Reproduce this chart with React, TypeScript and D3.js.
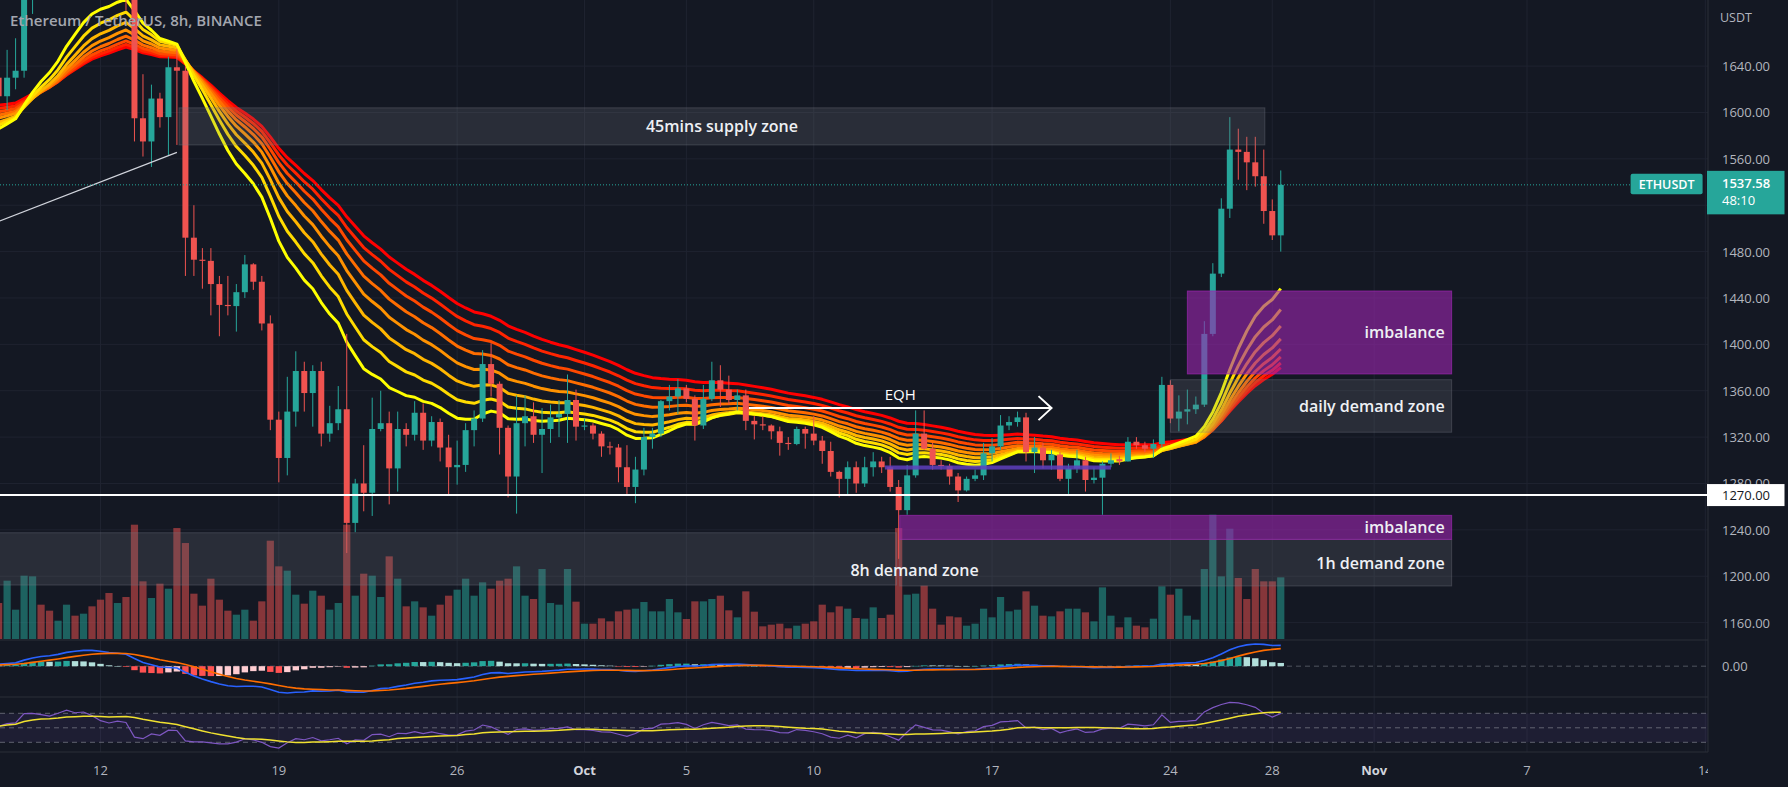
import * as React from "react";
import * as d3 from "d3";

// ETH/USDT 8h candles, Sep 8 2022 00:00 UTC onward
const candleOpen = [
  1630, 1614, 1630, 1636, 1718, 1722, 1716, 1708, 1738, 1778,
  1765, 1774, 1756, 1728, 1714, 1730, 1722, 1595, 1575, 1612,
  1596, 1639, 1636, 1492, 1473, 1472, 1452, 1434, 1433, 1445,
  1469, 1454, 1418, 1335, 1302, 1342, 1377, 1358, 1377, 1323,
  1332, 1344, 1246, 1280, 1272, 1327, 1332, 1293, 1327, 1322,
  1341, 1317, 1333, 1311, 1294, 1296, 1326, 1336, 1383, 1366,
  1328, 1286, 1332, 1338, 1322, 1327, 1337, 1340, 1352, 1329,
  1330, 1323, 1312, 1311, 1294, 1277, 1292, 1320, 1323, 1351,
  1355, 1362, 1353, 1330, 1353, 1369, 1361, 1352, 1356, 1334,
  1331, 1330, 1325, 1315, 1314, 1327, 1323, 1317, 1308, 1290,
  1284, 1294, 1280, 1294, 1299, 1294, 1277, 1257, 1287, 1323,
  1310, 1296, 1295, 1286, 1274, 1284, 1287, 1306, 1312, 1330,
  1333, 1337, 1307, 1311, 1300, 1305, 1284, 1293, 1300, 1283,
  1285, 1297, 1301, 1299, 1316, 1313, 1310, 1314, 1365, 1336,
  1342, 1344, 1348, 1409, 1461, 1517, 1568, 1566, 1557, 1545,
  1515, 1494,
];
const candleHigh = [
  1638, 1654, 1664, 1728, 1738, 1732, 1735, 1745, 1785, 1790,
  1782, 1780, 1765, 1740, 1738, 1742, 1748, 1633, 1624, 1617,
  1648, 1655, 1640, 1520, 1483, 1483, 1459, 1459, 1452, 1477,
  1470, 1459, 1425, 1342, 1372, 1394, 1385, 1382, 1385, 1347,
  1364, 1409, 1284, 1313, 1354, 1360, 1342, 1342, 1332, 1351,
  1349, 1338, 1336, 1322, 1317, 1332, 1343, 1395, 1401, 1368,
  1330, 1356, 1356, 1350, 1345, 1348, 1352, 1374, 1361, 1336,
  1332, 1325, 1316, 1314, 1313, 1303, 1328, 1328, 1352, 1365,
  1370, 1365, 1356, 1365, 1385, 1382, 1373, 1361, 1361, 1338,
  1338, 1331, 1329, 1320, 1329, 1329, 1338, 1321, 1316, 1291,
  1299, 1299, 1303, 1307, 1303, 1303, 1283, 1296, 1343, 1343,
  1315, 1300, 1297, 1289, 1286, 1292, 1315, 1319, 1339, 1338,
  1342, 1341, 1320, 1315, 1309, 1307, 1297, 1309, 1303, 1294,
  1299, 1306, 1304, 1320, 1320, 1316, 1318, 1372, 1369, 1356,
  1361, 1355, 1420, 1470, 1526, 1596, 1586, 1579, 1579, 1568,
  1525, 1550,
];
const candleLow = [
  1606, 1602, 1620, 1630, 1685, 1705, 1700, 1702, 1730, 1755,
  1752, 1748, 1712, 1705, 1700, 1688, 1575, 1562, 1553, 1587,
  1563, 1572, 1459, 1459, 1448, 1425, 1407, 1425, 1411, 1440,
  1447, 1412, 1326, 1281, 1287, 1329, 1342, 1329, 1312, 1316,
  1326, 1220, 1238, 1256, 1252, 1325, 1262, 1273, 1312, 1317,
  1309, 1312, 1299, 1270, 1279, 1290, 1312, 1333, 1355, 1305,
  1268, 1254, 1312, 1315, 1289, 1315, 1320, 1315, 1317, 1326,
  1318, 1303, 1305, 1281, 1271, 1263, 1287, 1310, 1320, 1343,
  1340, 1350, 1317, 1327, 1351, 1346, 1348, 1343, 1326, 1318,
  1326, 1318, 1304, 1309, 1313, 1310, 1313, 1297, 1286, 1268,
  1270, 1272, 1277, 1286, 1289, 1273, 1215, 1253, 1285, 1309,
  1292, 1292, 1279, 1264, 1273, 1282, 1283, 1299, 1309, 1326,
  1329, 1299, 1289, 1293, 1292, 1282, 1271, 1289, 1273, 1280,
  1253, 1294, 1296, 1299, 1310, 1307, 1302, 1311, 1332, 1325,
  1331, 1340, 1346, 1407, 1458, 1509, 1542, 1533, 1536, 1504,
  1490, 1480,
];
const candleClose = [
  1614, 1630, 1636, 1718, 1722, 1716, 1708, 1738, 1778, 1765,
  1774, 1756, 1728, 1714, 1730, 1722, 1595, 1575, 1612, 1596,
  1639, 1636, 1492, 1473, 1472, 1452, 1434, 1433, 1445, 1469,
  1454, 1418, 1335, 1302, 1342, 1377, 1358, 1377, 1323, 1332,
  1344, 1246, 1280, 1272, 1327, 1332, 1293, 1327, 1322, 1341,
  1317, 1333, 1311, 1294, 1296, 1326, 1336, 1383, 1366, 1328,
  1286, 1332, 1338, 1322, 1327, 1337, 1340, 1352, 1329, 1330,
  1323, 1312, 1311, 1294, 1277, 1292, 1320, 1323, 1351, 1355,
  1362, 1353, 1330, 1353, 1369, 1361, 1352, 1356, 1334, 1331,
  1330, 1325, 1315, 1314, 1327, 1323, 1317, 1308, 1290, 1284,
  1294, 1280, 1294, 1299, 1294, 1277, 1257, 1287, 1323, 1310,
  1296, 1295, 1286, 1274, 1284, 1287, 1306, 1312, 1330, 1333,
  1337, 1307, 1311, 1300, 1305, 1284, 1293, 1300, 1283, 1285,
  1297, 1300, 1299, 1316, 1313, 1310, 1314, 1365, 1336, 1342,
  1344, 1348, 1409, 1461, 1517, 1568, 1566, 1557, 1545, 1515,
  1494, 1537.58,
];
// volume, thousand ETH
const volume = [
  324, 525, 264, 570, 564, 309, 255, 165, 309, 210,
  228, 294, 354, 414, 324, 378, 1029, 519, 369, 498,
  453, 999, 864, 408, 300, 543, 354, 255, 219, 264,
  165, 339, 885, 654, 615, 399, 318, 435, 390, 264,
  324, 1029, 390, 588, 570, 378, 744, 543, 294, 339,
  285, 210, 309, 390, 444, 543, 390, 510, 453, 525,
  543, 654, 390, 360, 630, 324, 309, 630, 336, 138,
  138, 186, 159, 249, 264, 273, 333, 249, 249, 360,
  240, 180, 339, 339, 360, 390, 258, 195, 429, 246,
  114, 129, 138, 96, 120, 138, 159, 309, 240, 294,
  273, 189, 183, 285, 189, 219, 999, 399, 408, 480,
  273, 129, 204, 195, 120, 138, 273, 195, 378, 249,
  264, 429, 300, 210, 204, 249, 273, 273, 240, 159,
  465, 210, 105, 195, 120, 105, 183, 474, 399, 453,
  210, 174, 630, 1119, 564, 993, 549, 360, 630, 519,
  519, 555,
];

const ribbonLengths = [20, 25, 30, 35, 40, 45, 50, 55];
const ribbonSeed = [1583, 1587, 1590, 1594, 1597, 1600, 1603, 1606];
const macdSeed = { fast: 1598, slow: 1593, signal: 3 };
const rsiSeed = { gain: 9, loss: 7 };

const priceTicks = [1160, 1200, 1240, 1280, 1320, 1360, 1400, 1440, 1480, 1520, 1560, 1600, 1640];
const timeTicks = [
  { d: Date.UTC(2022, 8, 12), label: "12" },
  { d: Date.UTC(2022, 8, 19), label: "19" },
  { d: Date.UTC(2022, 8, 26), label: "26" },
  { d: Date.UTC(2022, 9, 1), label: "Oct", bold: true },
  { d: Date.UTC(2022, 9, 5), label: "5" },
  { d: Date.UTC(2022, 9, 10), label: "10" },
  { d: Date.UTC(2022, 9, 17), label: "17" },
  { d: Date.UTC(2022, 9, 24), label: "24" },
  { d: Date.UTC(2022, 9, 28), label: "28" },
  { d: Date.UTC(2022, 10, 1), label: "Nov", bold: true },
  { d: Date.UTC(2022, 10, 7), label: "7" },
  { d: Date.UTC(2022, 10, 14), label: "14" },
];

const zoneEnd = Date.UTC(2022, 10, 4, 1);
const zones = [
  { label: "45mins supply zone", from: Date.UTC(2022, 8, 15, 2), to: Date.UTC(2022, 9, 27, 17), top: 1604, bottom: 1572, kind: "gray", align: "center" },
  { label: "", from: Date.UTC(2022, 7, 20), to: Date.UTC(2022, 9, 13, 6), top: 1237.5, bottom: 1192.4, kind: "gray", align: "center" },
  { label: "1h demand zone", from: Date.UTC(2022, 9, 13, 9), to: zoneEnd, top: 1231.8, bottom: 1191.6, kind: "gray", align: "right" },
  { label: "imbalance", from: Date.UTC(2022, 9, 13, 9), to: zoneEnd, top: 1252.5, bottom: 1231.8, kind: "purple", align: "right" },
  { label: "daily demand zone", from: Date.UTC(2022, 9, 24, 0), to: zoneEnd, top: 1369.5, bottom: 1324.2, kind: "gray", align: "right" },
  { label: "imbalance", from: Date.UTC(2022, 9, 24, 16), to: zoneEnd, top: 1446, bottom: 1374.5, kind: "purple", align: "right" },
];
const demand8hLabel = { text: "8h demand zone", d: Date.UTC(2022, 9, 13, 23), price: 1205 };
const eqh = { from: Date.UTC(2022, 9, 7, 11), to: Date.UTC(2022, 9, 19, 8), price: 1345 };
const purpleLevel = { from: Date.UTC(2022, 9, 12, 19), to: Date.UTC(2022, 9, 21, 16), top: 1295.5, bottom: 1292 };
const trendLine = [
  { d: Date.UTC(2022, 8, 8, 0), price: 1506 },
  { d: Date.UTC(2022, 8, 15, 0), price: 1565.6 },
];
const keyLevel = 1270;
const lastPrice = 1537.58;

const W = 1788;
const H = 787;
const AXIS_X = 1708;
const MAIN_BOTTOM = 640;
const MACD_BOTTOM = 697;
const RSI_BOTTOM = 752;
const BG = "#141823";
const GRID = "#1f2330";
const UP = "#26a69a";
const DOWN = "#ef5350";
const FONT = "'Open Sans', 'DejaVu Sans', sans-serif";

const start = Date.UTC(2022, 8, 8, 0);
const dates = candleClose.map((_, i) => new Date(start + i * 8 * 3600 * 1000));

function emaSeries(values: number[], len: number, seed: number) {
  const a = 2 / (len + 1);
  let e = seed;
  return values.map((v) => (e = e + a * (v - e)));
}

function rsiSeries(closes: number[], len: number) {
  let g = rsiSeed.gain;
  let l = rsiSeed.loss;
  return closes.map((c, i) => {
    const prev = i === 0 ? candleOpen[0] : closes[i - 1];
    const ch = c - prev;
    g = (g * (len - 1) + Math.max(ch, 0)) / len;
    l = (l * (len - 1) + Math.max(-ch, 0)) / len;
    return 100 - 100 / (1 + g / l);
  });
}

export default function App() {
  const x = d3
    .scaleUtc()
    .domain([new Date(Date.UTC(2022, 8, 12)), new Date(Date.UTC(2022, 10, 7))])
    .range([100.5, 1527]);
  const y = d3.scaleLinear().domain([1160, 1640]).range([622.6, 66.1]);
  const yVol = d3.scaleLinear().domain([0, d3.max(volume) as number]).range([639, 514.7]);

  const ribbon = ribbonLengths.map((len, k) => emaSeries(candleClose, len, ribbonSeed[k]));
  const ribbonColor = d3.interpolateRgb("#ffff00", "#ff0000");

  const fast = emaSeries(candleClose, 12, macdSeed.fast);
  const slow = emaSeries(candleClose, 26, macdSeed.slow);
  const macd = fast.map((f, i) => f - slow[i]);
  const signal = emaSeries(macd, 9, macdSeed.signal);
  const hist = macd.map((m, i) => m - signal[i]);
  const macdExt = d3.extent([...macd, ...signal, ...hist]) as [number, number];
  const yMacd = d3.scaleLinear().domain(macdExt).range([MACD_BOTTOM - 4, MAIN_BOTTOM + 4]);

  const rsi = rsiSeries(candleClose, 14);
  const rsiMa = rsi.map((_, i) => d3.mean(rsi.slice(Math.max(0, i - 13), i + 1)) as number);
  const yRsi = d3.scaleLinear().domain([30, 70]).range([742.3, 713.3]);

  const line = (vals: number[], sy: (v: number) => number) =>
    d3
      .line<number>()
      .x((_, i) => x(dates[i]))
      .y((v) => sy(v))(vals) as string;

  const yLast = y(lastPrice);
  // the axis hides tick labels sitting under the last-price box
  const axisLabels = priceTicks.filter((p) => Math.abs(y(p) - (yLast + 8)) > 28);

  return (
    <svg
      width={W}
      height={H}
      style={{ position: "fixed", left: 0, top: 0, display: "block" }}
      fontFamily={FONT}
    >
      <defs>
        <clipPath id="main">
          <rect x={0} y={0} width={AXIS_X} height={MAIN_BOTTOM} />
        </clipPath>
        <clipPath id="macd">
          <rect x={0} y={MAIN_BOTTOM} width={AXIS_X} height={MACD_BOTTOM - MAIN_BOTTOM} />
        </clipPath>
        <clipPath id="rsi">
          <rect x={0} y={MACD_BOTTOM} width={AXIS_X} height={RSI_BOTTOM - MACD_BOTTOM} />
        </clipPath>
        <clipPath id="time">
          <rect x={0} y={RSI_BOTTOM} width={AXIS_X} height={H - RSI_BOTTOM} />
        </clipPath>
      </defs>
      <rect width={W} height={H} fill={BG} />

      {/* grid */}
      {priceTicks.map((p) => (
        <line key={p} x1={0} x2={AXIS_X} y1={y(p)} y2={y(p)} stroke={GRID} />
      ))}
      {timeTicks.map((t) => (
        <line key={t.d} x1={x(t.d)} x2={x(t.d)} y1={0} y2={RSI_BOTTOM} stroke={GRID} />
      ))}

      <g clipPath="url(#main)">
        {/* volume */}
        {volume.map((v, i) => (
          <rect
            key={i}
            x={x(dates[i]) - 3.6}
            width={7.2}
            y={yVol(v)}
            height={yVol(0) - yVol(v)}
            fill={candleClose[i] >= candleOpen[i] ? "rgba(38,166,154,0.52)" : "rgba(239,83,80,0.52)"}
          />
        ))}

        {/* EMA ribbon */}
        {ribbon
          .map((vals, k) => ({ vals, k }))
          .reverse()
          .map(({ vals, k }) => (
            <path
              key={k}
              d={line(vals, y)}
              fill="none"
              stroke={ribbonColor(k / (ribbon.length - 1))}
              strokeWidth={3}
              strokeLinejoin="round"
            />
          ))}

        {/* candles */}
        {candleClose.map((c, i) => {
          const o = candleOpen[i];
          const col = c >= o ? UP : DOWN;
          const cx = x(dates[i]);
          const top = y(Math.max(o, c));
          const bot = y(Math.min(o, c));
          return (
            <g key={i}>
              <line x1={cx} x2={cx} y1={y(candleHigh[i])} y2={y(candleLow[i])} stroke={col} strokeWidth={1} />
              <rect x={cx - 3} width={6} y={top} height={Math.max(1, bot - top)} fill={col} />
            </g>
          );
        })}

        {/* trend line */}
        <line
          x1={x(trendLine[0].d)}
          y1={y(trendLine[0].price)}
          x2={x(trendLine[1].d)}
          y2={y(trendLine[1].price)}
          stroke="#d1d4dc"
          strokeWidth={1.2}
        />

        {/* zones */}
        {zones.map((z, i) => {
          const x0 = x(z.from);
          const x1 = x(z.to);
          const y0 = y(z.top);
          const y1 = y(z.bottom);
          const purple = z.kind === "purple";
          return (
            <g key={i}>
              <rect
                x={x0}
                y={y0}
                width={x1 - x0}
                height={y1 - y0}
                fill={purple ? "rgba(156,39,176,0.6)" : "rgba(120,123,134,0.22)"}
                stroke={purple ? "rgba(156,39,176,0.7)" : "rgba(120,123,134,0.35)"}
                strokeWidth={1}
              />
              {z.label && (
                <text
                  x={z.align === "right" ? x1 - 7 : (x0 + x1) / 2}
                  y={(y0 + y1) / 2}
                  textAnchor={z.align === "right" ? "end" : "middle"}
                  dominantBaseline="central"
                  fill="#eef0f4"
                  fontSize={16}
                  fontWeight={600}
                >
                  {z.label}
                </text>
              )}
            </g>
          );
        })}
        <text
          x={x(demand8hLabel.d)}
          y={y(demand8hLabel.price)}
          textAnchor="middle"
          dominantBaseline="central"
          fill="#eef0f4"
          fontSize={16}
          fontWeight={600}
        >
          {demand8hLabel.text}
        </text>

        {/* purple level */}
        <rect
          x={x(purpleLevel.from)}
          width={x(purpleLevel.to) - x(purpleLevel.from)}
          y={y(purpleLevel.top)}
          height={y(purpleLevel.bottom) - y(purpleLevel.top)}
          fill="rgba(94,64,190,0.85)"
        />

        {/* EQH arrow */}
        <line x1={x(eqh.from)} x2={x(eqh.to)} y1={y(eqh.price)} y2={y(eqh.price)} stroke="#ffffff" strokeWidth={2} />
        <path
          d={`M${x(eqh.to) - 13},${y(eqh.price) - 12} L${x(eqh.to)},${y(eqh.price)} L${x(eqh.to) - 13},${y(eqh.price) + 12}`}
          fill="none"
          stroke="#ffffff"
          strokeWidth={2}
        />
        <text
          x={(x(eqh.from) + x(eqh.to)) / 2}
          y={y(eqh.price) - 14}
          textAnchor="middle"
          dominantBaseline="central"
          fill="#ffffff"
          fontSize={15}
        >
          EQH
        </text>

        {/* key level */}
        <line x1={0} x2={AXIS_X} y1={y(keyLevel)} y2={y(keyLevel)} stroke="#ffffff" strokeWidth={2} />

        {/* last price line */}
        <line x1={0} x2={1630} y1={yLast} y2={yLast} stroke={UP} strokeWidth={1} strokeDasharray="1 2" />
        <rect x={1630.6} y={yLast - 11} width={72} height={20.5} rx={2} fill={UP} />
        <text x={1666.6} y={yLast} textAnchor="middle" dominantBaseline="central" fill="#ffffff" fontSize={12.5} fontWeight={600}>
          ETHUSDT
        </text>

        <text x={10} y={20} dominantBaseline="central" fill="#a3a6af" fontSize={15} fontWeight={600}>
          Ethereum / TetherUS, 8h, BINANCE
        </text>
      </g>

      {/* MACD pane */}
      <line x1={0} x2={AXIS_X} y1={MAIN_BOTTOM} y2={MAIN_BOTTOM} stroke="#2a2e39" />
      <g clipPath="url(#macd)">
        <line x1={0} x2={AXIS_X} y1={yMacd(0)} y2={yMacd(0)} stroke="#787b86" strokeOpacity={0.6} strokeDasharray="5 4" />
        {hist.map((h, i) => {
          const prev = i === 0 ? h : hist[i - 1];
          const col = h >= 0 ? (h > prev ? "#26a69a" : "#b2dfdb") : h < prev ? "#ff5252" : "#ffcdd2";
          const y0 = yMacd(Math.max(0, h));
          const y1 = yMacd(Math.min(0, h));
          return <rect key={i} x={x(dates[i]) - 3.2} width={6.4} y={y0} height={Math.max(0.5, y1 - y0)} fill={col} />;
        })}
        <path d={line(macd, yMacd)} fill="none" stroke="#2962ff" strokeWidth={1.6} />
        <path d={line(signal, yMacd)} fill="none" stroke="#ff6d00" strokeWidth={1.6} />
      </g>

      {/* RSI pane */}
      <line x1={0} x2={AXIS_X} y1={MACD_BOTTOM} y2={MACD_BOTTOM} stroke="#2a2e39" />
      <g clipPath="url(#rsi)">
        <rect x={0} width={AXIS_X} y={yRsi(70)} height={yRsi(30) - yRsi(70)} fill="rgba(126,87,194,0.1)" />
        {[70, 50, 30].map((v) => (
          <line key={v} x1={0} x2={AXIS_X} y1={yRsi(v)} y2={yRsi(v)} stroke="#787b86" strokeOpacity={0.75} strokeDasharray="5 4" />
        ))}
        <path d={line(rsi, yRsi)} fill="none" stroke="#7e57c2" strokeWidth={1.2} />
        <path d={line(rsiMa, yRsi)} fill="none" stroke="#f0e130" strokeWidth={1.5} />
      </g>
      <line x1={0} x2={AXIS_X} y1={RSI_BOTTOM} y2={RSI_BOTTOM} stroke="#2a2e39" />

      {/* price axis */}
      <line x1={AXIS_X} x2={AXIS_X} y1={0} y2={RSI_BOTTOM} stroke="#2a2e39" />
      <text x={1720} y={17} dominantBaseline="central" fill="#b2b5be" fontSize={12.5}>
        USDT
      </text>
      {axisLabels.map((p) => (
        <text key={p} x={1722} y={y(p)} dominantBaseline="central" fill="#b2b5be" fontSize={13}>
          {p.toFixed(2)}
        </text>
      ))}
      <text x={1722} y={yMacd(0)} dominantBaseline="central" fill="#b2b5be" fontSize={13}>
        0.00
      </text>
      <rect x={1707} y={y(keyLevel) - 11} width={77.5} height={22} fill="#ffffff" />
      <text x={1722} y={y(keyLevel)} dominantBaseline="central" fill="#131722" fontSize={13}>
        {keyLevel.toFixed(2)}
      </text>
      <rect x={1707} y={yLast - 14} width={77.5} height={43.5} fill={UP} />
      <text x={1722} y={yLast - 2} dominantBaseline="central" fill="#ffffff" fontSize={13} fontWeight={600}>
        {lastPrice.toFixed(2)}
      </text>
      <text x={1722} y={yLast + 15} dominantBaseline="central" fill="#ffffff" fontSize={13}>
        48:10
      </text>

      {/* time axis */}
      <g clipPath="url(#time)">
        {timeTicks.map((t) => (
          <text
            key={t.d}
            x={x(t.d)}
            y={770}
            textAnchor="middle"
            dominantBaseline="central"
            fill={t.bold ? "#d1d4dc" : "#b2b5be"}
            fontSize={13}
            fontWeight={t.bold ? 700 : 400}
          >
            {t.label}
          </text>
        ))}
      </g>
    </svg>
  );
}
